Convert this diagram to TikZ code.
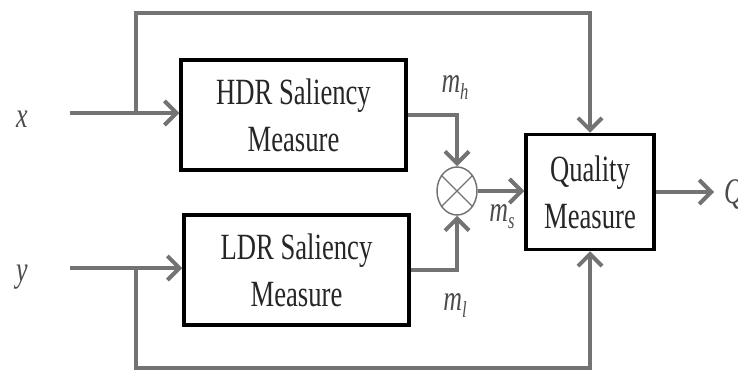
\documentclass[tikz,border=0pt]{standalone}
\usepackage{fontspec}
\setmainfont{Liberation Serif}[FakeStretch=0.72]
\usetikzlibrary{positioning, arrows.meta, shapes.geometric}

\newcommand{\msub}[1]{\textit{m}\raisebox{-7pt}{\fontsize{23}{23}\selectfont\textit{#1}}}

\begin{document}
\begin{tikzpicture}[x=1pt, y=-1pt,
    block/.style={rectangle, draw=black, line width=3.5pt, minimum width=225pt, minimum height=110pt, align=center, text=black!85, font=\fontsize{37}{47}\selectfont},
    wire/.style={draw=black!55, line width=4pt},
    arr/.style={wire, -{Straight Barb[length=12pt, width=24pt]}},
    lbl/.style={inner sep=0pt, text=black!70, font=\fontsize{36}{40}\selectfont}]
    \useasboundingbox (0,0) rectangle (738,369);

    \node[block] (hdr) at (293.5, 115) {HDR Saliency\\Measure};
    \node[block] (ldr) at (296.5, 270) {LDR Saliency\\Measure};
    \node[block, minimum width=128pt, minimum height=115pt] (qual) at (590, 192) {Quality\\Measure};
    \node[ellipse, draw=black!55, line width=1.5pt, minimum width=40pt, minimum height=48pt, inner sep=0pt] (mult) at (457, 191) {};
    \draw[black!55, line width=1.2pt] (mult.45) -- (mult.225) (mult.135) -- (mult.315);

    \node[lbl, anchor=base] (x) at (22, 127) {\textit{x}};
    \node[lbl, anchor=base] (y) at (22, 281) {\textit{y}};
    \node[lbl, anchor=base] (mh) at (455, 92) {\msub{h}};
    \node[lbl, anchor=base] (ml) at (455, 310) {\msub{l}};
    \node[lbl, anchor=base] (ms) at (502, 221) {\msub{s}};
    \node[lbl, anchor=west, inner xsep=10pt] (q) at (714, 194) {\textit{Q}};

    \coordinate (xin) at (70, 113);
    \coordinate (yin) at (70, 268);
    \coordinate (xtap) at (136, 113);
    \coordinate (ytap) at (136, 268);

    \draw[arr] (xin) -- (xin -| hdr.west);
    \draw[arr] (yin) -- (yin -| ldr.west);
    \draw[arr] (xtap) -- ++(0, -100) -| (qual.north);
    \draw[arr] (ytap) -- ++(0, 100) -| (qual.south);
    \draw[arr] (hdr.east) -| (mult.north);
    \draw[arr] (ldr.east) -| (mult.south);
    \draw[arr] (mult.east) -- (mult.east -| qual.west);
    \draw[arr] (qual.east) -- (qual.east -| q.west);
\end{tikzpicture}
\end{document}
